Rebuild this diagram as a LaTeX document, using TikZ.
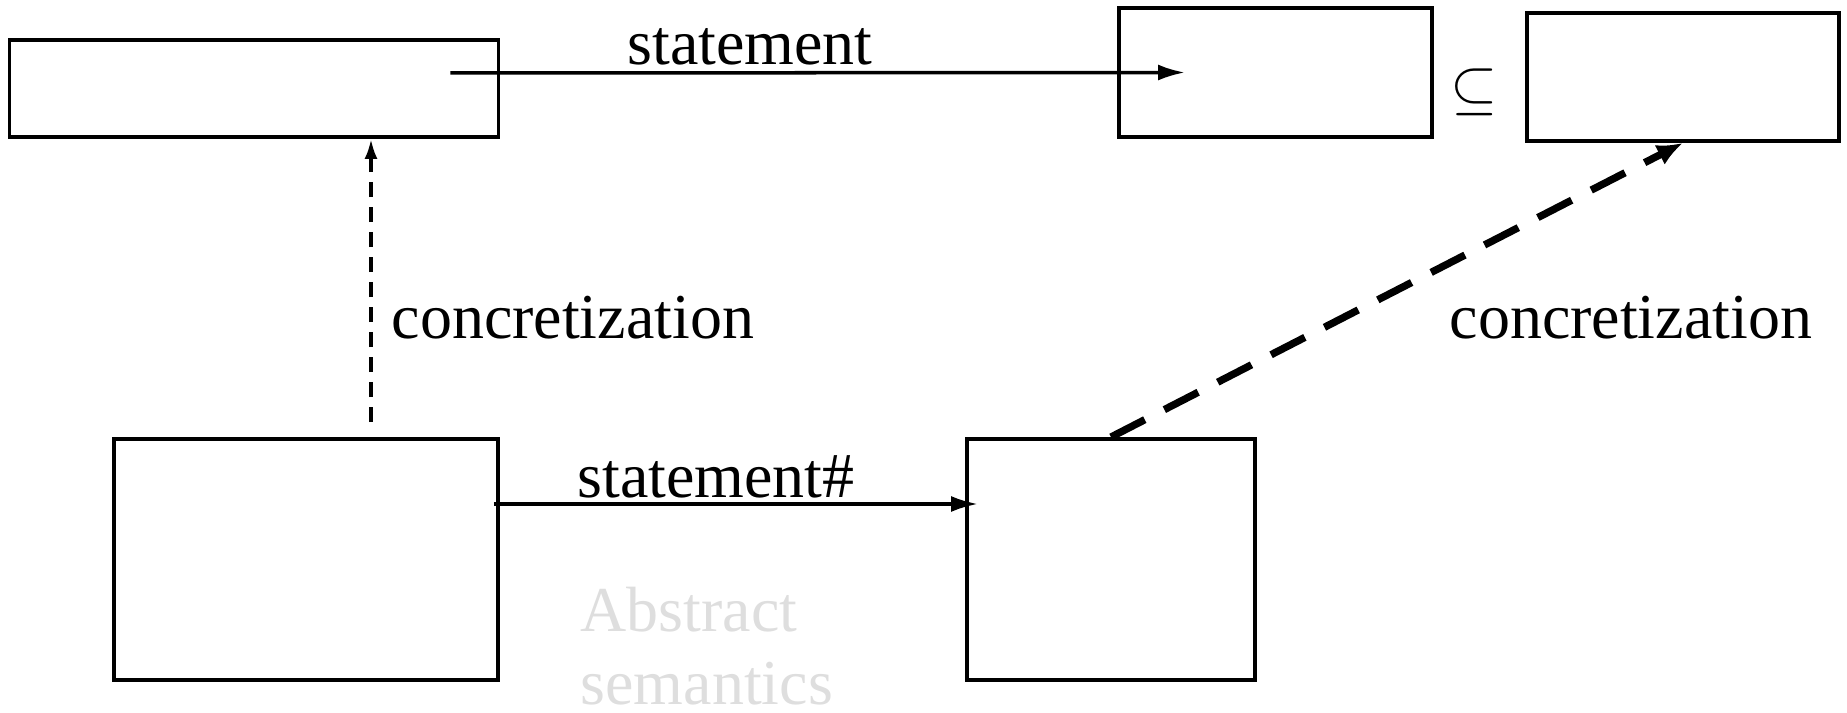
\documentclass[tikz,border=0pt]{standalone}
\usepackage{fontspec}
\setmainfont{Liberation Serif}
\usetikzlibrary{arrows.meta, positioning}
\tikzstyle{block} = [draw, fill=white, rectangle, line width=1.1pt, inner sep=0pt]
\tikzstyle{lbl} = [inner sep=0pt, font=\fontsize{18.2}{21}\selectfont]
\definecolor{faint}{gray}{0.87}

\begin{document}
\begin{tikzpicture}[auto,>={Latex[length=2.7mm,width=1.6mm]}]
    \useasboundingbox (0,0) rectangle (18.47,7.13);
    % concrete states (top row)
    \node [block, minimum width=4.89cm, minimum height=0.97cm] (conc) at (2.54,6.245) {};
    \node [block, minimum width=3.13cm, minimum height=1.29cm] (post) at (12.755,6.405) {};
    \node [block, minimum width=3.12cm, minimum height=1.28cm] (gpost) at (16.83,6.36) {};
    % abstract states (bottom row)
    \node [block, minimum width=3.84cm, minimum height=2.41cm] (abs) at (3.06,1.535) {};
    \node [block, minimum width=2.88cm, minimum height=2.41cm] (apost) at (11.11,1.535) {};
    \node [lbl] (sub) at (14.74,6.21) {$\subseteq$};
    % transfer arrows
    \draw [->, line width=1pt] ([shift={(-0.5,0.155)}]conc.east) -- ([xshift=6.8mm]post.west);
    \node [lbl] (st) at (7.5,6.66) {statement};
    \draw [->, line width=1pt] ([shift={(-0.06,0.555)}]abs.east) -- ([shift={(0.13,0.555)}]apost.west);
    \node [lbl] (sta) at (7.16,2.36) {statement\#};
    % concretization
    \draw [->, line width=1pt, dash pattern=on 1.5mm off 1mm, >={Latex[length=2mm,width=1.3mm]}]
        (abs.north) ++(0.65,0.15) coordinate (c1) -- (c1 |- conc.south);
    \node [lbl, anchor=west] (cc1) at (3.91,3.95) {concretization};
    \draw [->, line width=2.1pt, dash pattern=on 3.8mm off 2.2mm, >={Latex[length=2.6mm,width=2.2mm]}]
        (apost.north) -- (gpost.south);
    \node [lbl, anchor=west] (cc2) at (14.49,3.95) {concretization};
    \node [lbl, anchor=west, text=faint, align=left, font=\fontsize{18.2}{20.8}\selectfont] (absem) at (5.8,0.665) {Abstract\\semantics};
\end{tikzpicture}
\end{document}
